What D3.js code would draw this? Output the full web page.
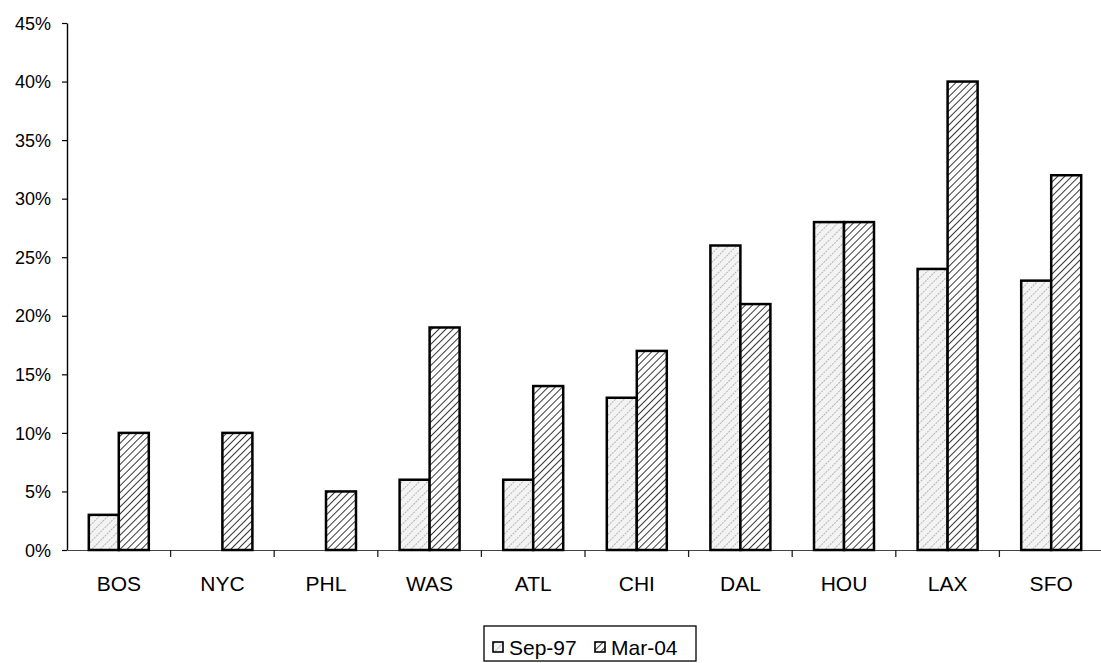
<!DOCTYPE html>
<html>
<head>
<meta charset="utf-8">
<script src="https://cdn.jsdelivr.net/npm/d3@7"></script>
<style>
  html, body { margin: 0; padding: 0; background: #fff; }
  svg { display: block; font-family: "Liberation Sans", Arial, sans-serif; }
</style>
</head>
<body>
<svg id="chart" width="1101" height="663"></svg>
<script>
// Share by city, two survey dates (percent)
const categories = ["BOS", "NYC", "PHL", "WAS", "ATL", "CHI", "DAL", "HOU", "LAX", "SFO"];
const seriesNames = ["Sep-97", "Mar-04"];
const sep97 = [3, 0, 0, 6, 6, 13, 26, 28, 24, 23];
const mar04 = [10, 10, 5, 19, 14, 17, 21, 28, 40, 32];
const yTicks = [0, 5, 10, 15, 20, 25, 30, 35, 40, 45];

const svg = d3.select("#chart");
const plotTop = 23, plotBottom = 550, plotLeft = 67;

// Fill patterns: light grey dotted hatch for Sep-97, dense dark hatch for Mar-04
const defs = svg.append("defs");
const pLight = defs.append("pattern")
  .attr("id", "hatchLight").attr("patternUnits", "userSpaceOnUse")
  .attr("width", 6).attr("height", 6).attr("patternTransform", "rotate(45)");
pLight.append("rect").attr("width", 6).attr("height", 6).attr("fill", "#f3f3f3");
pLight.append("line").attr("x1", 0).attr("y1", 0).attr("x2", 0).attr("y2", 6)
  .attr("stroke", "#8a8a8a").attr("stroke-width", 1.2).attr("stroke-dasharray", "2,1");

const pDark = defs.append("pattern")
  .attr("id", "hatchDark").attr("patternUnits", "userSpaceOnUse")
  .attr("width", 5).attr("height", 5).attr("patternTransform", "rotate(45)");
pDark.append("rect").attr("width", 5).attr("height", 5).attr("fill", "#fff");
pDark.append("line").attr("x1", 0).attr("y1", 0).attr("x2", 0).attr("y2", 5)
  .attr("stroke", "#151515").attr("stroke-width", 1.7);

const fills = ["url(#hatchLight)", "url(#hatchDark)"];

const x = d3.scaleBand().domain(categories).range([plotLeft, 1103]).paddingInner(0).paddingOuter(0);
const xSub = d3.scaleBand().domain(seriesNames).range([0, 60]);
const barOffset = (x.bandwidth() - 60) / 2;
const y = d3.scaleLinear().domain([0, 45]).range([plotBottom, plotTop]);

// Y axis
const yAxis = d3.axisLeft(y).tickValues(yTicks).tickFormat(d => d + "%").tickSize(5).tickSizeOuter(0);
const gy = svg.append("g").attr("transform", `translate(${plotLeft},0)`).call(yAxis);
gy.select(".domain").attr("stroke", "#000").attr("stroke-width", 1.4);
gy.selectAll(".tick line").attr("stroke", "#000").attr("stroke-width", 1.2);
gy.selectAll(".tick text").attr("font-size", 18).attr("fill", "#000")
  .attr("x", -16).attr("dy", "0.34em").attr("font-family", "Liberation Sans, Arial, sans-serif");

// X axis
const xAxis = d3.axisBottom(x).tickSize(0).tickSizeOuter(0);
const gx = svg.append("g").attr("transform", `translate(0,${plotBottom})`).call(xAxis);
gx.select(".domain").attr("stroke", "#444").attr("stroke-width", 1.1);
gx.selectAll(".tick text").attr("font-size", 21).attr("fill", "#000")
  .attr("y", 34).attr("dy", "0.35em").attr("font-family", "Liberation Sans, Arial, sans-serif");
// category separators below the axis
gx.selectAll(".sep").data(categories.slice(1)).join("line").attr("class", "sep")
  .attr("x1", d => x(d)).attr("x2", d => x(d)).attr("y1", 0).attr("y2", 7)
  .attr("stroke", "#222").attr("stroke-width", 1.3);

// Bars
const data = categories.map((c, i) => ({ cat: c, vals: [sep97[i], mar04[i]] }));
const groups = svg.append("g").selectAll("g").data(data).join("g")
  .attr("transform", d => `translate(${x(d.cat) + barOffset},0)`);
groups.selectAll("rect")
  .data(d => d.vals.map((v, k) => ({ v, k })).filter(e => e.v > 0))
  .join("rect")
  .attr("x", e => xSub(seriesNames[e.k]))
  .attr("width", xSub.bandwidth())
  .attr("y", e => y(e.v))
  .attr("height", e => plotBottom - y(e.v))
  .attr("fill", e => fills[e.k])
  .attr("stroke", "#000").attr("stroke-width", 2.5);

// Legend
const lg = svg.append("g");
lg.append("rect").attr("x", 484).attr("y", 626).attr("width", 212).attr("height", 35)
  .attr("fill", "#fff").attr("stroke", "#000").attr("stroke-width", 1.3);
const legX = [493, 595];
seriesNames.forEach((name, k) => {
  lg.append("rect").attr("x", legX[k]).attr("y", 642).attr("width", 10).attr("height", 10)
    .attr("fill", fills[k]).attr("stroke", "#000").attr("stroke-width", 1.6);
  lg.append("text").attr("x", legX[k] + 16).attr("y", 647).attr("dy", "0.36em")
    .attr("font-size", 21).attr("fill", "#000").text(name);
});
</script>
</body>
</html>
